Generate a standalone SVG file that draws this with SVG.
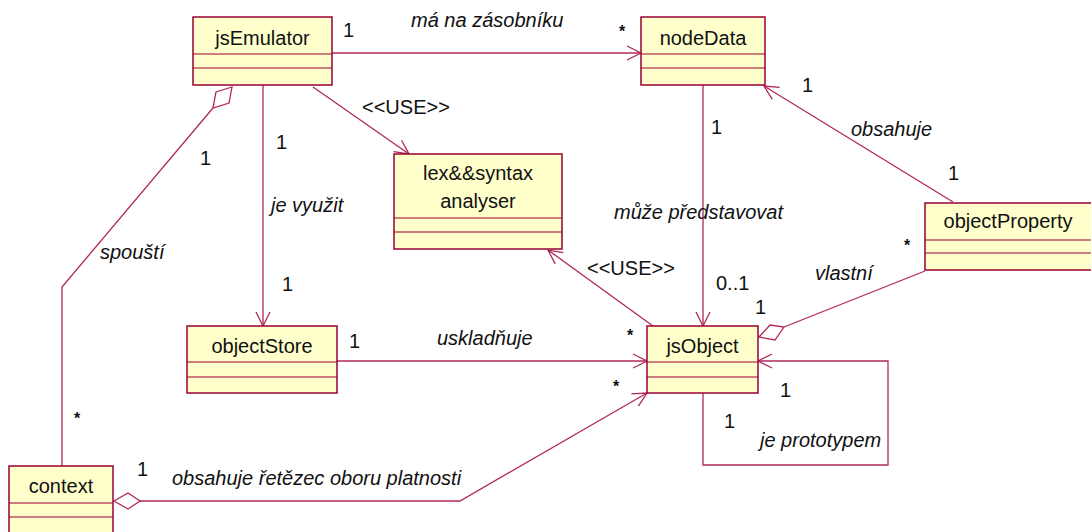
<svg xmlns="http://www.w3.org/2000/svg" width="1091" height="532" viewBox="0 0 1091 532">
  <style>
    .box { fill: #ffffcc; stroke: #990033; stroke-width: 1.5; }
    .sep { stroke: #990033; stroke-width: 1.2; }
    .name { font-family: "Liberation Sans", Arial, sans-serif; font-size: 20px; fill: #111; text-anchor: middle; }
    .lbl { font-family: "Liberation Sans", Arial, sans-serif; font-size: 20px; fill: #111; }
    .it { font-style: italic; }
    .star { font-family: "Liberation Sans", Arial, sans-serif; font-size: 16px; font-weight: bold; fill: #111; }
    .con { fill: none; stroke: #b0285a; stroke-width: 1.3; }
    .dia { fill: #ffffff; stroke: #b0285a; stroke-width: 1.3; }
  </style>
  <defs>
    <marker id="open" viewBox="0 0 16 16" refX="15" refY="8" markerWidth="16" markerHeight="16" markerUnits="userSpaceOnUse" orient="auto">
      <path d="M1,1 L15,8 L1,15" fill="none" stroke="#b0285a" stroke-width="1.3"/>
    </marker>
  </defs>
  <rect width="1091" height="532" fill="#ffffff"/>

  <!-- connectors -->
  <g id="connectors">
    <line class="con" x1="332" y1="53" x2="641" y2="53" marker-end="url(#open)"/>
    <line class="con" x1="313" y1="87" x2="409" y2="154" marker-end="url(#open)"/>
    <line class="con" x1="263" y1="85" x2="263" y2="326" marker-end="url(#open)"/>
    <line class="con" x1="703" y1="85" x2="703" y2="326" marker-end="url(#open)"/>
    <line class="con" x1="953" y1="202" x2="764" y2="86" marker-end="url(#open)"/>
    <line class="con" x1="653" y1="326" x2="548" y2="250" marker-end="url(#open)"/>
    <line class="con" x1="337" y1="361" x2="647" y2="361" marker-end="url(#open)"/>
    <polyline class="con" points="140,501 460,501 647,393" marker-end="url(#open)"/>
    <polyline class="con" points="703,393 703,465 888,465 888,361 758,361" marker-end="url(#open)"/>
    <line class="con" x1="925" y1="271" x2="784" y2="327"/>
    <polygon class="dia" points="759,337 770,325 784,327 775,340"/>
    <polyline class="con" points="213,108 62,287 62,466"/>
    <polygon class="dia" points="232,87 216,92 213,108 229,103"/>
    <polygon class="dia" points="114,501 128,493 140,501 128,509"/>

    <!-- association labels -->
    <text class="lbl" x="343" y="37">1</text>
    <text class="lbl it" x="411" y="27">má na zásobníku</text>
    <text class="star" x="619" y="37">*</text>
    <text class="lbl" x="362" y="114">&lt;&lt;USE&gt;&gt;</text>
    <text class="lbl" x="276" y="149">1</text>
    <text class="lbl it" x="271" y="212">je využit</text>
    <text class="lbl" x="282" y="291">1</text>
    <text class="lbl" x="200" y="165">1</text>
    <text class="lbl it" x="100" y="259">spouští</text>
    <text class="star" x="74" y="424">*</text>
    <text class="lbl" x="711" y="134">1</text>
    <text class="lbl it" x="614" y="219">může představovat</text>
    <text class="lbl" x="716" y="290">0..1</text>
    <text class="lbl" x="802" y="92">1</text>
    <text class="lbl it" x="851" y="136">obsahuje</text>
    <text class="lbl" x="948" y="180">1</text>
    <text class="lbl" x="587" y="275">&lt;&lt;USE&gt;&gt;</text>
    <text class="star" x="904" y="251">*</text>
    <text class="lbl it" x="815" y="280">vlastní</text>
    <text class="lbl" x="755" y="314">1</text>
    <text class="lbl" x="349" y="348">1</text>
    <text class="lbl it" x="437" y="345">uskladňuje</text>
    <text class="star" x="627" y="341">*</text>
    <text class="star" x="613" y="392">*</text>
    <text class="lbl" x="780" y="397">1</text>
    <text class="lbl" x="724" y="428">1</text>
    <text class="lbl it" x="760" y="447">je prototypem</text>
    <text class="lbl" x="137" y="476">1</text>
    <text class="lbl it" x="172" y="485">obsahuje řetězec oboru platnosti</text>
  </g>

  <!-- classes -->
  <g id="jsEmulator">
    <rect class="box" x="193" y="17" width="139" height="68"/>
    <line class="sep" x1="193" y1="54" x2="332" y2="54"/>
    <line class="sep" x1="193" y1="68" x2="332" y2="68"/>
    <text class="name" x="262.5" y="45">jsEmulator</text>
  </g>
  <g id="nodeData">
    <rect class="box" x="641" y="17" width="124" height="68"/>
    <line class="sep" x1="641" y1="54" x2="765" y2="54"/>
    <line class="sep" x1="641" y1="68" x2="765" y2="68"/>
    <text class="name" x="703" y="45">nodeData</text>
  </g>
  <g id="lexSyntaxAnalyser">
    <rect class="box" x="394" y="154" width="168" height="95"/>
    <line class="sep" x1="394" y1="218" x2="562" y2="218"/>
    <line class="sep" x1="394" y1="232" x2="562" y2="232"/>
    <text class="name" x="478" y="180">lex&amp;&amp;syntax</text>
    <text class="name" x="478" y="208">analyser</text>
  </g>
  <g id="objectProperty">
    <rect class="box" x="925" y="203" width="170" height="67"/>
    <line class="sep" x1="925" y1="240" x2="1095" y2="240"/>
    <line class="sep" x1="925" y1="253" x2="1095" y2="253"/>
    <text class="name" x="1008" y="228">objectProperty</text>
  </g>
  <g id="objectStore">
    <rect class="box" x="187" y="326" width="150" height="67"/>
    <line class="sep" x1="187" y1="362" x2="337" y2="362"/>
    <line class="sep" x1="187" y1="377" x2="337" y2="377"/>
    <text class="name" x="262" y="353">objectStore</text>
  </g>
  <g id="jsObject">
    <rect class="box" x="647" y="326" width="111" height="67"/>
    <line class="sep" x1="647" y1="362" x2="758" y2="362"/>
    <line class="sep" x1="647" y1="377" x2="758" y2="377"/>
    <text class="name" x="702.5" y="353">jsObject</text>
  </g>
  <g id="context">
    <rect class="box" x="9" y="466" width="104" height="80"/>
    <line class="sep" x1="9" y1="503" x2="113" y2="503"/>
    <line class="sep" x1="9" y1="517" x2="113" y2="517"/>
    <text class="name" x="61" y="493">context</text>
  </g>
</svg>
